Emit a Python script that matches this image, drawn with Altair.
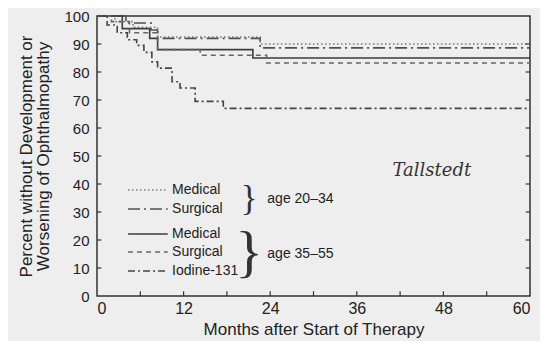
import altair as alt
import pandas as pd

# ---- data ----
series_names = ["Medical 20-34", "Surgical 20-34", "Medical 35-55", "Surgical 35-55", "Iodine-131"]

med_young_x = [0, 2.5, 5.0, 8.4, 22.6, 60]
med_young_y = [100, 98, 96, 92.5, 90, 90]

surg_young_x = [0, 4.0, 7.5, 8.4, 22.6, 60]
surg_young_y = [100, 97.5, 95, 92, 88.6, 88.6]

med_old_x = [0, 3.5, 7.3, 8.4, 21.6, 60]
med_old_y = [100, 95.5, 92, 88, 85, 85]

surg_old_x = [0, 2.0, 4.5, 8.4, 14.3, 23.5, 60]
surg_old_y = [100, 98, 94, 88, 86, 83.2, 83.2]

iodine_x = [0, 1.4, 2.8, 4.2, 5.5, 6.5, 7.6, 8.4, 10.4, 11.5, 13.6, 17.5, 60]
iodine_y = [100, 96.8, 94, 91.5, 89.5, 87, 83.6, 81.4, 76.5, 74.3, 69.5, 67, 67]

legend_labels = ["Medical", "Surgical", "Medical", "Surgical", "Iodine-131"]
legend_y = [37.9, 31.1, 22.1, 15.7, 8.9]
legend_x0 = [4.3]
legend_x1 = [9.8]
legend_text_x = [10.4]

group_labels = ["age 20\u201334", "age 35\u201355"]
group_y = [34.6, 15.0]
group_x = [23.6]
brace_x = [21.1]
brace_size = [35, 58]

x_tick_labels = [0, 12, 24, 36, 48, 60]
x_minor_ticks = [6, 12, 18, 24, 30, 36, 42, 48, 54]
y_tick_labels = [0, 10, 20, 30, 40, 50, 60, 70, 80, 90, 100]
y_minor_ticks = [10, 20, 30, 40, 50, 60, 70, 80, 90]

signature = "Tallstedt"
signature_x = [46.4]
signature_y = [44.5]

dash_range = [[1.5, 2.5], [12, 4, 2, 4], [1, 0], [5, 4], [7, 3, 2, 3]]
color_range = ["#7a7a7a", "#505050", "#3c3c3c", "#666666", "#444444"]

# ---- tables ----
rows = []
for name, xs_, ys_ in zip(series_names,
                          [med_young_x, surg_young_x, med_old_x, surg_old_x, iodine_x],
                          [med_young_y, surg_young_y, med_old_y, surg_old_y, iodine_y]):
    for i, (a, b) in enumerate(zip(xs_, ys_)):
        rows.append({"series": name, "month": a, "pct": b, "order": i})
curves = pd.DataFrame(rows)

leg = pd.DataFrame({"series": series_names, "label": legend_labels, "y": legend_y,
                    "x0": legend_x0 * 5, "x1": legend_x1 * 5, "tx": legend_text_x * 5})
grp = pd.DataFrame({"label": group_labels, "y": group_y, "x": group_x * 2,
                    "bx": brace_x * 2, "size": brace_size})
xt = pd.DataFrame({"x": x_minor_ticks, "y0": 0, "y1": 1.7})
ytl = pd.DataFrame({"y": y_minor_ticks, "x0": 0, "x1": 0.6})
ytr = pd.DataFrame({"y": y_minor_ticks, "x0": 59.4, "x1": 60})
sig = pd.DataFrame({"t": [signature], "x": signature_x, "y": signature_y})

FONT = "Liberation Sans"
xs = alt.Scale(domain=[0, 60], nice=False, zero=False)
ys = alt.Scale(domain=[0, 100], nice=False)
ax_x = alt.Axis(values=x_tick_labels, title="Months after Start of Therapy",
                labelFontSize=16, titleFontSize=17, titleFontWeight="normal",
                tickSize=0, domain=False, grid=False, labelPadding=4,
                titlePadding=5, labelColor="#222", titleColor="#222",
                labelFont=FONT, titleFont=FONT, labelOverlap=False)
ax_y = alt.Axis(values=y_tick_labels,
                title=["Percent without Development or", "Worsening of Ophthalmopathy"],
                labelFontSize=15, titleFontSize=17, titleFontWeight="normal",
                tickSize=0, domain=False, grid=False, labelPadding=8,
                titlePadding=11, labelColor="#222", titleColor="#222",
                labelFont=FONT, titleFont=FONT, titleLineHeight=17,
                labelOverlap=False)


def X(f):
    return alt.X(f, scale=xs, axis=ax_x)


def Y(f):
    return alt.Y(f, scale=ys, axis=ax_y)


dash_enc = alt.StrokeDash("series:N", scale=alt.Scale(domain=series_names, range=dash_range), legend=None)
col_enc = alt.Color("series:N", scale=alt.Scale(domain=series_names, range=color_range), legend=None)

lines = alt.Chart(curves).mark_line(interpolate="step-after", strokeWidth=1.6).encode(
    x=X("month:Q"), y=Y("pct:Q"),
    strokeDash=dash_enc, color=col_enc, detail="series:N", order="order:Q",
)

leg_lines = alt.Chart(leg).mark_rule(strokeWidth=1.5).encode(
    x=X("x0:Q"), x2="x1:Q", y=Y("y:Q"), strokeDash=dash_enc, color=col_enc)
leg_text = alt.Chart(leg).mark_text(align="left", baseline="middle", fontSize=14,
                                    font=FONT, color="#222").encode(
    x=X("tx:Q"), y=Y("y:Q"), text="label:N")
braces = alt.Chart(grp).mark_text(align="center", baseline="middle",
                                  font="DejaVu Sans ExtraLight", fontWeight=200,
                                  color="#333").encode(
    x=X("bx:Q"), y=Y("y:Q"), text=alt.value("}"),
    size=alt.Size("size:Q", scale=None, legend=None))
grp_text = alt.Chart(grp).mark_text(align="left", baseline="middle", fontSize=14,
                                    font=FONT, color="#222").encode(
    x=X("x:Q"), y=Y("y:Q"), text="label:N")
sig_text = alt.Chart(sig).mark_text(align="center", baseline="middle", fontSize=18,
                                    font="DejaVu Serif", fontStyle="italic", color="#333").encode(
    x=X("x:Q"), y=Y("y:Q"), text="t:N")

tick_x = alt.Chart(xt).mark_rule(color="#333", strokeWidth=1.2).encode(
    x=X("x:Q"), y=Y("y0:Q"), y2="y1:Q")
tick_yl = alt.Chart(ytl).mark_rule(color="#333", strokeWidth=1.2).encode(
    y=Y("y:Q"), x=X("x0:Q"), x2="x1:Q")
tick_yr = alt.Chart(ytr).mark_rule(color="#333", strokeWidth=1.2).encode(
    y=Y("y:Q"), x=X("x0:Q"), x2="x1:Q")

chart = alt.layer(lines, leg_lines, leg_text, braces, grp_text, sig_text,
                  tick_x, tick_yl, tick_yr).properties(
    width=433, height=280,
    autosize=alt.AutoSizeParams(type="none"),
    padding={"left": 89, "top": 8, "right": 10, "bottom": 45},
    background="#eeeeee",
).configure_view(stroke="#333", strokeWidth=1.5)

chart.save("out.html", embed_options={"renderer": "svg", "actions": False})
